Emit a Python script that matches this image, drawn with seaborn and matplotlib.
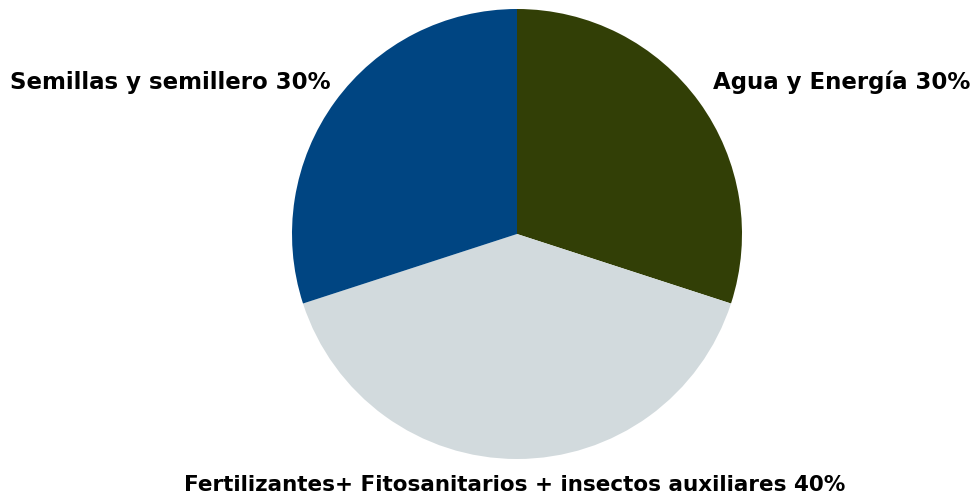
import matplotlib

matplotlib.use("Agg")
import matplotlib.pyplot as plt
import seaborn as sns

# datos del grafico
categorias = ["Agua y Energía", "Fertilizantes+ Fitosanitarios + insectos auxiliares", "Semillas y semillero"]
porcentajes = [30, 40, 30]
colores = ["#323f06", "#d2dadd", "#004582"]

sns.set_theme(style="white")
plt.rcParams["font.family"] = ["DejaVu Sans"]

fig = plt.figure(figsize=(9.76, 4.99), dpi=100)
ax = fig.add_axes([0, 0, 1, 1])

# pie en sentido horario empezando arriba
ax.pie(
    porcentajes,
    colors=colores,
    startangle=90,
    counterclock=False,
    radius=1,
    center=(0, 0),
    wedgeprops={"linewidth": 0},
)

# escala: centro en (517, 234) px, radio 225 px
ax.set_xlim(-517 / 225, (976 - 517) / 225)
ax.set_ylim(-(499 - 234) / 225, 234 / 225)
ax.set_aspect("auto")
ax.axis("off")

etiquetas = [f"{c} {p}%" for c, p in zip(categorias, porcentajes)]
estilo = dict(fontweight="bold", color="black", va="center")

ax.text((970 - 517) / 225, (234 - 82) / 225, etiquetas[0], ha="right", fontsize=16.5, **estilo)
ax.text(-2 / 225, (234 - 485) / 225, etiquetas[1], ha="center", fontsize=15.5, **estilo)
ax.text((10 - 517) / 225, (234 - 82) / 225, etiquetas[2], ha="left", fontsize=16.5, **estilo)

fig.savefig("out.png", dpi=100)
plt.close(fig)
